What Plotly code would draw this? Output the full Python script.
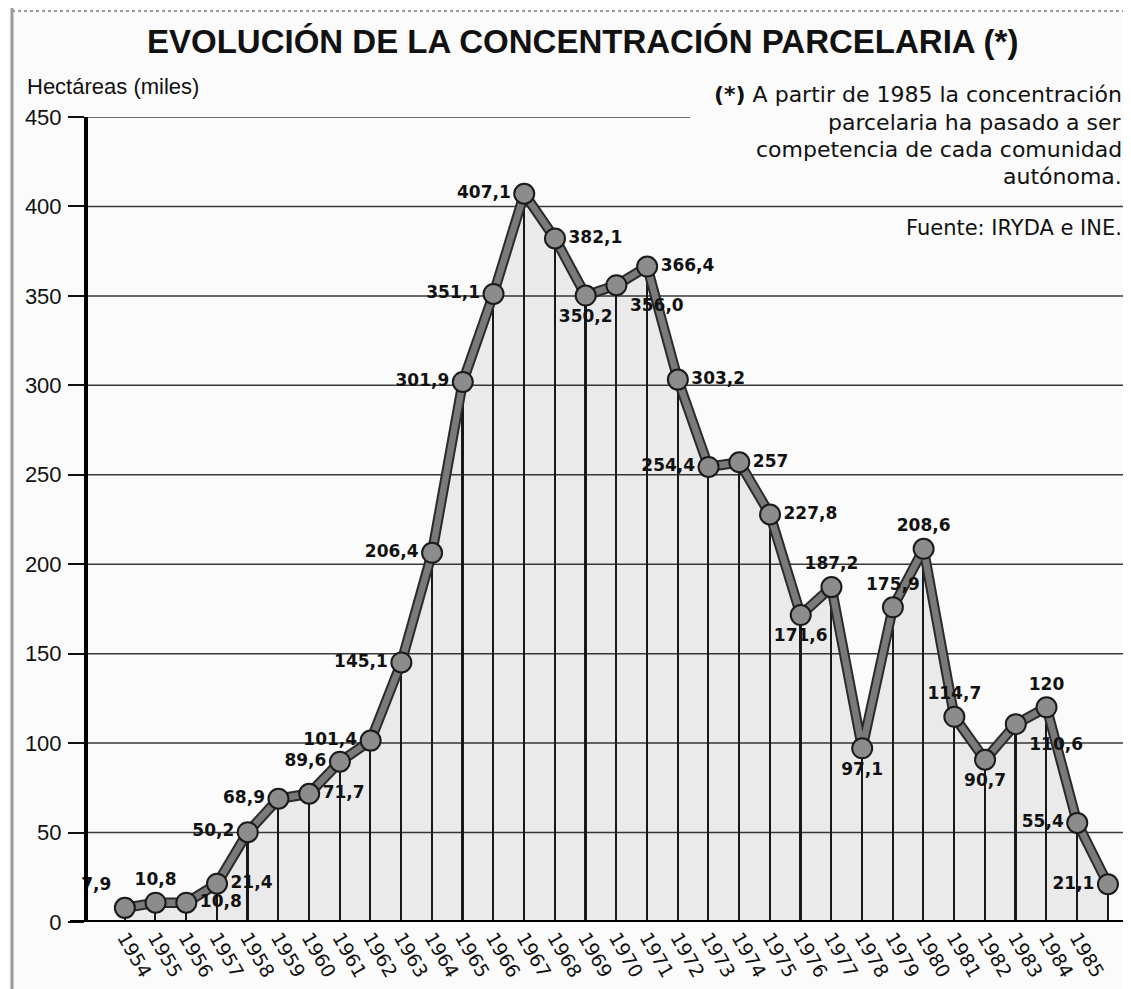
import plotly.graph_objects as go

# ---------------- data ----------------
years = list(range(1954, 1987))
hectareas = [7.9, 10.8, 10.8, 21.4, 50.2, 68.9, 71.7, 89.6, 101.4, 145.1,
             206.4, 301.9, 351.1, 407.1, 382.1, 350.2, 356.0, 366.4, 303.2, 254.4,
             257, 227.8, 171.6, 187.2, 97.1, 175.9, 208.6, 114.7, 90.7, 110.6,
             120, 55.4, 21.1]
year_labels = [str(y) for y in years]
y_ticks = [0, 50, 100, 150, 200, 250, 300, 350, 400, 450]

title_text = "EVOLUCIÓN DE LA CONCENTRACIÓN PARCELARIA (*)"
y_title = "Hectáreas (miles)"
note_lines = ["<b>(*)</b> A partir de 1985 la concentración",
              "parcelaria ha pasado a ser",
              "competencia de cada comunidad",
              "autónoma."]
source_text = "Fuente: IRYDA e INE."

# ---------------- styles ----------------
label_positions = ["top left", "top center", "middle right", "middle right", "middle left",
                   "middle left", "middle right", "middle left", "middle left", "middle left",
                   "middle left", "middle left", "middle left", "middle left", "middle right",
                   "bottom center", "bottom right", "middle right", "middle right", "middle left",
                   "middle right", "middle right", "bottom center", "top center", "bottom center",
                   "top center", "top center", "top center", "bottom center", "bottom right",
                   "top center", "middle left", "middle left"]

label_text = [f"{v:.1f}".replace(".", ",") if isinstance(v, float) else str(v) for v in hectareas]

x_range = [1952.80, 1986.75]

# page geometry (the page body has an 8px margin, compensated here)
OFF = 8
PAGE_W, PAGE_H = 1131, 989
W, H = PAGE_W - OFF, PAGE_H - OFF
AXIS_X, TOP_Y, BASE_Y = 88, 117, 922          # page pixels
ML = AXIS_X - OFF
MT = TOP_Y - OFF
MB = PAGE_H - BASE_Y
MR = 0
plot_w = W - ML - MR
plot_h = H - MT - MB


def px_x(p):
    return (p - AXIS_X) / plot_w


def px_y(p):
    return (BASE_Y - p) / plot_h


SANS = "Liberation Sans, Arial, Helvetica, sans-serif"
WIDE = "DejaVu Sans, Verdana, sans-serif"

fig = go.Figure()

# light shaded area under the curve
fig.add_trace(go.Scatter(x=years, y=hectareas, mode="lines", fill="tozeroy",
                         fillcolor="rgba(0,0,0,0.065)", line=dict(width=0),
                         hoverinfo="skip", showlegend=False))
# vertical drop lines
fig.add_trace(go.Bar(x=years, y=hectareas, width=0.055, marker=dict(color="#1a1a1a", line=dict(width=0)),
                     hoverinfo="skip", showlegend=False))
# line outline
fig.add_trace(go.Scatter(x=years, y=hectareas, mode="lines",
                         line=dict(color="#2a2a2a", width=10.5),
                         hoverinfo="skip", showlegend=False))
# line core
fig.add_trace(go.Scatter(x=years, y=hectareas, mode="lines",
                         line=dict(color="#7a7a7a", width=6.5),
                         hoverinfo="skip", showlegend=False))
# markers + value labels
fig.add_trace(go.Scatter(x=years, y=hectareas, mode="markers+text", cliponaxis=False,
                         marker=dict(size=20, color="#8c8c8c", line=dict(color="#1a1a1a", width=2)),
                         text=label_text, textposition=label_positions,
                         textfont=dict(family=WIDE, size=17, color="#111111", weight="bold"),
                         showlegend=False))

shapes = []
# horizontal gridlines
for v in y_ticks[1:]:
    x_end = 1972.4 if v == y_ticks[-1] else 1986.55
    shapes.append(dict(type="line", xref="x", yref="y", x0=x_range[0], x1=x_end, y0=v, y1=v,
                       line=dict(color="#3a3a3a", width=1.5), layer="below"))
# x-axis base line extended to the left
shapes.append(dict(type="line", xref="paper", yref="y", x0=px_x(70), x1=1, y0=0, y1=0,
                   line=dict(color="#000000", width=4), layer="above"))
# scan frame borders
shapes.append(dict(type="line", xref="paper", yref="paper", x0=px_x(12), x1=px_x(12),
                   y0=px_y(PAGE_H), y1=px_y(OFF), line=dict(color="#9a9a9a", width=3)))
shapes.append(dict(type="line", xref="paper", yref="paper", x0=px_x(12), x1=px_x(PAGE_W),
                   y0=px_y(11), y1=px_y(11), line=dict(color="#9a9a9a", width=2, dash="dot")))

annotations = [
    dict(text=f"<b>{title_text}</b>", xref="paper", yref="paper", x=px_x(582), y=px_y(42),
         xanchor="center", yanchor="middle", showarrow=False,
         font=dict(family=SANS, size=33, color="#111111")),
    dict(text=y_title, xref="paper", yref="paper", x=px_x(25), y=px_y(87),
         xanchor="left", yanchor="middle", showarrow=False,
         font=dict(family=SANS, size=22, color="#111111")),
    dict(text=source_text, xref="paper", yref="paper", x=px_x(1124), y=px_y(228),
         xanchor="right", yanchor="middle", showarrow=False,
         font=dict(family=WIDE, size=21, color="#111111")),
]
for i, line in enumerate(note_lines):
    annotations.append(dict(text=line, xref="paper", yref="paper", x=px_x(1124), y=px_y(95 + 27 * i),
                            xanchor="right", yanchor="middle", showarrow=False,
                            font=dict(family=WIDE, size=22, color="#111111")))

fig.update_layout(
    width=W, height=H,
    margin=dict(l=ML, r=MR, t=MT, b=MB),
    paper_bgcolor="#fbfbfb", plot_bgcolor="#fbfbfb",
    showlegend=False, bargap=0,
    shapes=shapes, annotations=annotations,
    xaxis=dict(range=x_range, tickmode="array", tickvals=years, ticktext=year_labels,
               tickangle=60, ticks="", showgrid=False, zeroline=False, showline=False,
               tickfont=dict(family=WIDE, size=19, color="#111111")),
    yaxis=dict(range=[0, 450], tickmode="array", tickvals=y_ticks,
               ticks="outside", ticklen=16, tickwidth=1.5, tickcolor="#111111",
               showgrid=False, zeroline=False, showline=True, linewidth=4, linecolor="#000000",
               ticklabelstandoff=2,
               tickfont=dict(family=SANS, size=22, color="#111111")),
)

fig.write_html("out.html")
